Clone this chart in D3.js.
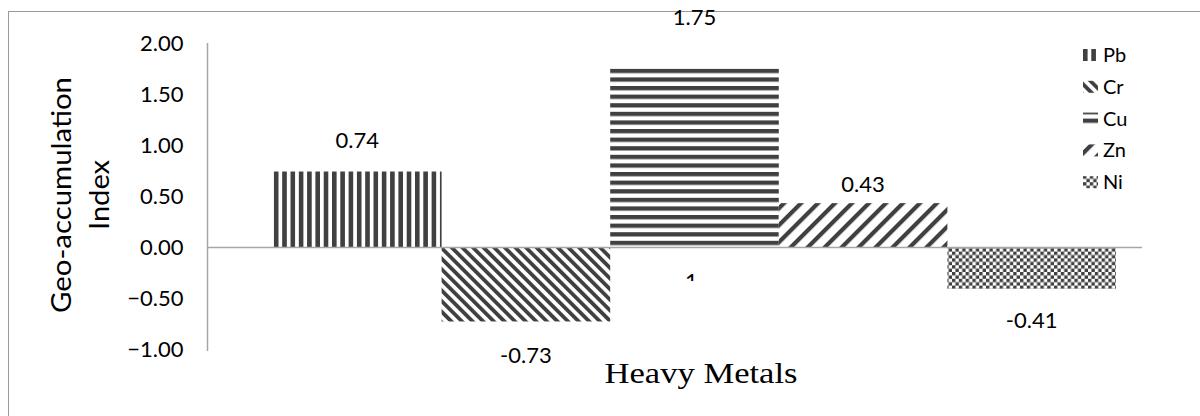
<!DOCTYPE html>
<html><head><meta charset="utf-8">
<script src="https://cdn.jsdelivr.net/npm/d3@7"></script>
<style>body{margin:0;background:#fff}svg{display:block}</style>
</head><body>
<svg id="c" width="1200" height="416"></svg>
<script>
const metals = ["Pb","Cr","Cu","Zn","Ni"];
const values = [0.74,-0.73,1.75,0.43,-0.41];
const labels = ["0.74","-0.73","1.75","0.43","-0.41"];
const yTicks = [2.0,1.5,1.0,0.5,0.0,-0.5,-1.0];
const patterns = ["pPb","pCr","pCu","pZn","pNi"];
// label offsets from bar end (layout, pixels)
const labelOffsets = [-31,34,-51,-19,31];

const svg = d3.select("#c");
const dark = "#404040";
const font = "Lato, 'Open Sans', sans-serif";
const defs = svg.append("defs");

// patterns
let p = defs.append("pattern").attr("id","pPb").attr("patternUnits","userSpaceOnUse").attr("width",8.3).attr("height",10);
p.append("rect").attr("width",8.3).attr("height",10).attr("fill","#fff");
p.append("rect").attr("width",4.6).attr("height",10).attr("fill",dark);

p = defs.append("pattern").attr("id","pCr").attr("patternUnits","userSpaceOnUse").attr("width",7.5).attr("height",10).attr("patternTransform","rotate(-45)");
p.append("rect").attr("width",7.5).attr("height",10).attr("fill","#fff");
p.append("rect").attr("width",3.8).attr("height",10).attr("fill",dark);

p = defs.append("pattern").attr("id","pCu").attr("patternUnits","userSpaceOnUse").attr("width",10).attr("height",8.6);
p.append("rect").attr("width",10).attr("height",8.6).attr("fill","#fff");
p.append("rect").attr("width",10).attr("height",4.3).attr("fill",dark);

p = defs.append("pattern").attr("id","pZn").attr("patternUnits","userSpaceOnUse").attr("width",12).attr("height",10).attr("patternTransform","rotate(45)");
p.append("rect").attr("width",12).attr("height",10).attr("fill","#fff");
p.append("rect").attr("width",4.2).attr("height",10).attr("fill",dark);

p = defs.append("pattern").attr("id","pNi").attr("patternUnits","userSpaceOnUse").attr("width",6.8).attr("height",6.8);
p.append("rect").attr("width",6.8).attr("height",6.8).attr("fill","#fff");
p.append("rect").attr("width",3.4).attr("height",3.4).attr("fill",dark);
p.append("rect").attr("x",3.4).attr("y",3.4).attr("width",3.4).attr("height",3.4).attr("fill",dark);

defs.append("clipPath").attr("id","clip1").append("rect").attr("x",600).attr("y",250).attr("width",200).attr("height",31);

// border
svg.append("rect").attr("x",8.5).attr("y",11.5).attr("width",1200).attr("height",420)
  .attr("fill","none").attr("stroke","#9a9a9a").attr("stroke-width",1);

const y = d3.scaleLinear().domain([-1,2]).range([349,43]);
const x = d3.scaleBand().domain(metals).range([273,1116]).paddingInner(0);

// y axis
const yAxis = d3.axisLeft(y).tickValues(yTicks).tickFormat(d3.format(".2f")).tickSize(0).tickPadding(24);
const ga = svg.append("g").attr("transform","translate(207.5,0)").call(yAxis);
ga.select(".domain").attr("stroke","#a6a6a6").attr("stroke-width",1.5).attr("d","M0,43V351");
ga.selectAll("text").attr("font-family",font).attr("font-size",22).attr("fill","#000").attr("dy","0.35em");

// bars
svg.append("g").selectAll("rect").data(metals).join("rect")
  .attr("x",d=>x(d)).attr("width",x.bandwidth())
  .attr("y",(d,i)=>y(Math.max(0,values[i])))
  .attr("height",(d,i)=>Math.abs(y(values[i])-y(0)))
  .attr("fill",(d,i)=>`url(#${patterns[i]})`);

// zero line
svg.append("line").attr("x1",207).attr("x2",1142).attr("y1",y(0)+0.5).attr("y2",y(0)+0.5)
  .attr("stroke","#a6a6a6").attr("stroke-width",1.5);

// data labels
svg.append("g").selectAll("text").data(metals).join("text")
  .attr("x",d=>x(d)+x.bandwidth()/2)
  .attr("y",(d,i)=> y(values[i])+labelOffsets[i])
  .attr("text-anchor","middle").attr("font-family",font).attr("font-size",22)
  .attr("dy","0.35em")
  .text((d,i)=>labels[i]);

// clipped stray label
svg.append("text").attr("x",x("Cu")+x.bandwidth()/2-3).attr("y",289).attr("text-anchor","middle")
  .attr("font-family",font).attr("font-size",22).attr("clip-path","url(#clip1)").text("1");

// axis titles
svg.append("text").attr("transform","translate(62,195) rotate(-90)").attr("text-anchor","middle")
  .attr("font-family",font).attr("font-size",27).attr("dy","0.35em")
  .attr("textLength",236).attr("lengthAdjust","spacingAndGlyphs").text("Geo-accumulation");
svg.append("text").attr("transform","translate(100,195) rotate(-90)").attr("text-anchor","middle")
  .attr("font-family",font).attr("font-size",27).attr("dy","0.35em")
  .attr("textLength",70).attr("lengthAdjust","spacingAndGlyphs").text("Index");
svg.append("text").attr("x",701).attr("y",383).attr("text-anchor","middle")
  .attr("font-family","'Liberation Serif','Times New Roman',serif").attr("font-size",30)
  .attr("textLength",193).attr("lengthAdjust","spacingAndGlyphs").text("Heavy Metals");

// legend
const lg = svg.append("g").selectAll("g").data(metals).join("g")
  .attr("transform",(d,i)=>`translate(1083,${55+i*31.8})`);
lg.append("rect").attr("x",0).attr("y",-6).attr("width",15).attr("height",12).attr("fill",(d,i)=>`url(#${patterns[i]})`);
lg.append("text").attr("x",20).attr("y",0).attr("dy","0.35em").attr("font-family",font).attr("font-size",20).text(d=>d);
</script>
</body></html>
